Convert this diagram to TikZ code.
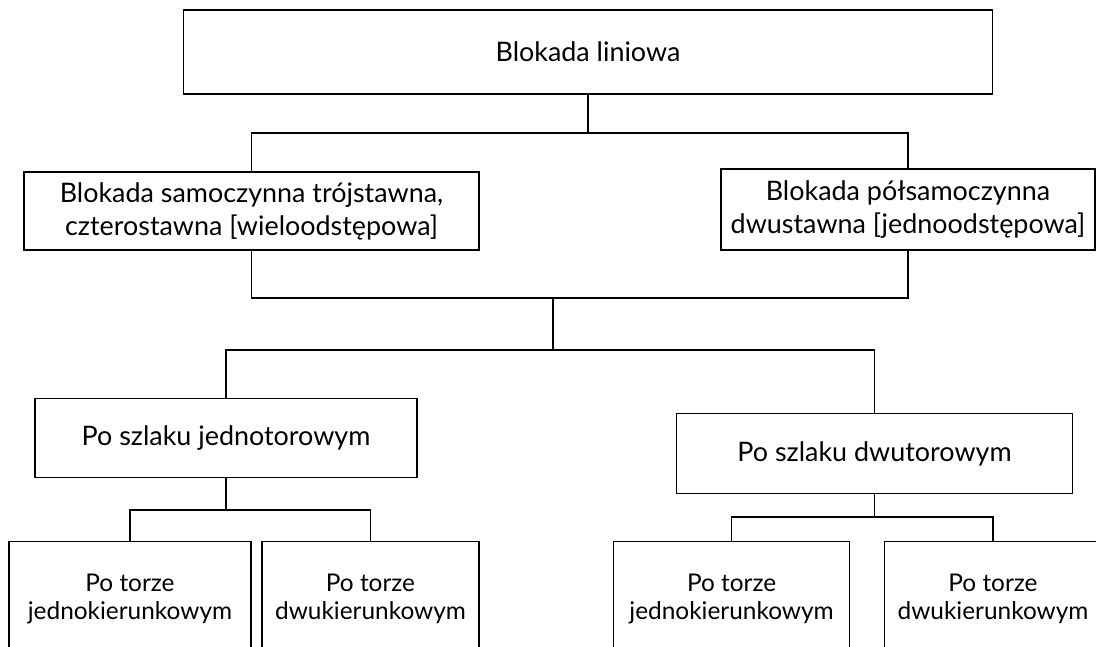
\documentclass[tikz,border=0pt]{standalone}
\usepackage{fontspec}
\setmainfont{Lato}
\begin{document}
\begin{tikzpicture}[x=1pt,y=-1pt,
  box/.style={draw=black, line width=1.4pt, align=center, inner sep=0pt,
    font=\fontsize{26.9}{33}\selectfont},
  leaf/.style={box, font=\fontsize{24.4}{28}\selectfont},
  link/.style={draw=black, line width=1.4pt}]
\useasboundingbox (0,0) rectangle (1096,646);
\clip (0,0) rectangle (1096,646);

% level 1
\node[box, minimum width=809pt, minimum height=84pt] (root) at (588,52) {Blokada liniowa};

% level 2
\node[box, minimum width=455pt, minimum height=78pt] (sam) at (251.5,211)
  {Blokada samoczynna trójstawna,\\czterostawna [wieloodstępowa]};
\node[box, minimum width=374pt, minimum height=81pt] (pol) at (908,209.5)
  {Blokada półsamoczynna\\dwustawna [jednoodstępowa]};

% level 3
\node[box, minimum width=382pt, minimum height=79pt] (jedn) at (226,437.7) {Po szlaku jednotorowym};
\node[box, minimum width=396pt, minimum height=80pt] (dwut) at (874.5,453.7) {Po szlaku dwutorowym};

% leaves
\node[leaf, minimum width=242pt, minimum height=116pt] (ja) at (130,599.3) {Po torze\\jednokierunkowym};
\node[leaf, minimum width=217pt, minimum height=116pt] (jb) at (370.5,599.3) {Po torze\\dwukierunkowym};
\node[leaf, minimum width=236pt, minimum height=116pt] (da) at (731.6,599.3) {Po torze\\jednokierunkowym};
\node[leaf, minimum width=217pt, minimum height=116pt] (db) at (993,599.3) {Po torze\\dwukierunkowym};

% junction points
\coordinate (bus1) at (588,133);
\coordinate (bus2top) at (553,298);
\coordinate (bus2) at (553,350);
\coordinate (bus3) at (226,510);
\coordinate (bus4) at (874.5,517);

% connectors
\draw[link] (root.south) -- (bus1);
\draw[link] (sam.north) -- (sam.north |- bus1) -- (pol.north |- bus1) -- (pol.north);
\draw[link] (sam.south) -- (sam.south |- bus2top) -- (pol.south |- bus2top) -- (pol.south);
\draw[link] (bus2top) -- (bus2);
\draw[link] (jedn.north) -- (jedn.north |- bus2) -- (dwut.north |- bus2) -- (dwut.north);
\draw[link] (jedn.south) -- (bus3);
\draw[link] (ja.north) -- (ja.north |- bus3) -- (jb.north |- bus3) -- (jb.north);
\draw[link] (dwut.south) -- (bus4);
\draw[link] (da.north) -- (da.north |- bus4) -- (db.north |- bus4) -- (db.north);
\end{tikzpicture}
\end{document}
